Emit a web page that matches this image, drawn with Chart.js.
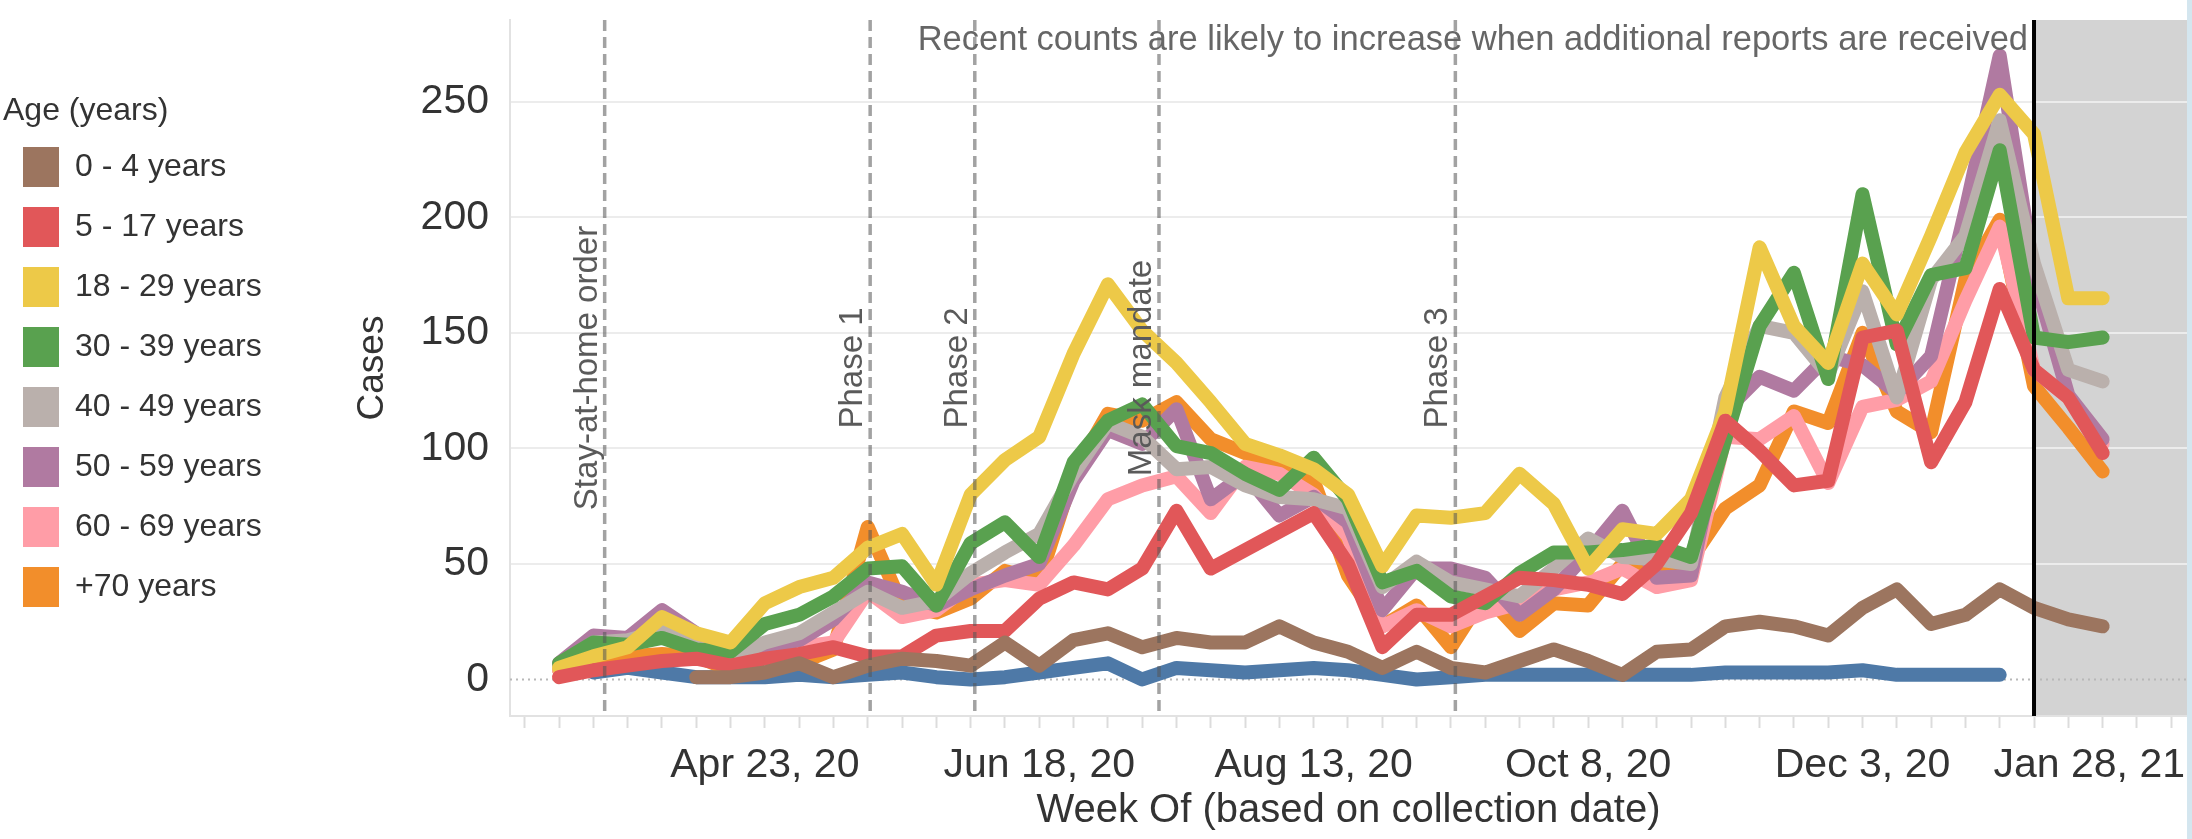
<!DOCTYPE html>
<html>
<head>
<meta charset="utf-8">
<title>Cases by age group</title>
<script src="https://cdn.jsdelivr.net/npm/chart.js@4.4.1/dist/chart.umd.min.js"></script>
<style>
    html, body { margin: 0; padding: 0; background: #ffffff; }
    #ChartWrap { width: 2192px; height: 839px; }
</style>
</head>
<body>
<div id="ChartWrap"><canvas id="AgeCasesChart" width="2192" height="839"></canvas></div>
<script>
const AgeCasesChartId = 'AgeCasesChart';

// weekly buckets (x = week index)
const WeekLabels = ["Mar 12, 20", "Mar 19, 20", "Mar 26, 20", "Apr 2, 20", "Apr 9, 20", "Apr 16, 20", "Apr 23, 20", "Apr 30, 20",
    "May 7, 20", "May 14, 20", "May 21, 20", "May 28, 20", "Jun 4, 20", "Jun 11, 20", "Jun 18, 20", "Jun 25, 20",
    "Jul 2, 20", "Jul 9, 20", "Jul 16, 20", "Jul 23, 20", "Jul 30, 20", "Aug 6, 20", "Aug 13, 20", "Aug 20, 20",
    "Aug 27, 20", "Sep 3, 20", "Sep 10, 20", "Sep 17, 20", "Sep 24, 20", "Oct 1, 20", "Oct 8, 20", "Oct 15, 20",
    "Oct 22, 20", "Oct 29, 20", "Nov 5, 20", "Nov 12, 20", "Nov 19, 20", "Nov 26, 20", "Dec 3, 20", "Dec 10, 20",
    "Dec 17, 20", "Dec 24, 20", "Dec 31, 20", "Jan 7, 21", "Jan 14, 21", "Jan 21, 21"];

const AgeGroups = ['0 - 4 years', '5 - 17 years', '18 - 29 years', '30 - 39 years', '40 - 49 years', '50 - 59 years', '60 - 69 years', '+70 years'];
const AgeColors = ['#9c755f', '#e15759', '#edc948', '#59a14f', '#bab0ac', '#b07aa1', '#ff9da7', '#f28e2b'];
const UnknownLabel = 'Unknown';
const UnknownColor = '#4e79a7';

const Cases0To4 = [null, null, null, null, 1, 1, 3, 7, 1, 6, 9, 8, 6, 16, 6, 17, 20, 14, 18, 16, 16, 23, 16, 12,
    5, 12, 5, 3, 8, 13, 8, 2, 12, 13, 23, 25, 23, 19, 31, 39, 24, 28, 39, 31, 26, 23];
const Cases5To17 = [1, 4, 6, 8, 9, 6, 9, 11, 14, 10, 10, 19, 21, 21, 35, 42, 39, 48, 73, 48, 56, 64, 72, 50,
    14, 28, 28, 36, 44, 43, 41, 37, 50, 72, 112, 99, 84, 86, 148, 151, 94, 120, 169, 134, 122, 98];
const Cases18To29 = [5, 10, 14, 27, 20, 16, 33, 40, 44, 57, 63, 41, 80, 95, 105, 141, 171, 151, 137, 120, 102, 97, 91, 80,
    49, 71, 70, 72, 89, 76, 48, 65, 63, 78, 116, 187, 153, 137, 180, 158, 192, 228, 253, 236, 165, 165];
const Cases30To39 = [7, 16, 15, 18, 13, 12, 24, 28, 36, 48, 49, 32, 59, 68, 53, 94, 112, 119, 101, 98, 89, 82, 96, 78,
    42, 47, 36, 33, 46, 55, 55, 56, 58, 53, 104, 153, 176, 130, 210, 145, 175, 178, 229, 148, 146, 148];
const Cases40To49 = [6, 16, 17, 21, 14, 9, 16, 20, 29, 38, 31, 34, 46, 55, 63, 89, 111, 105, 91, 92, 84, 79, 78, 74,
    40, 51, 42, 39, 36, 48, 61, 53, 52, 50, 122, 153, 150, 132, 168, 122, 173, 192, 242, 180, 134, 129];
const Cases50To59 = [7, 19, 18, 30, 20, 9, 14, 17, 26, 42, 38, 32, 39, 45, 50, 86, 108, 102, 117, 78, 89, 71, 79, 68,
    30, 48, 48, 44, 28, 39, 55, 73, 44, 45, 116, 131, 125, 140, 136, 124, 140, 203, 270, 175, 123, 104];
const Cases60To69 = [4, 17, 18, 26, 16, 6, 12, 14, 16, 38, 27, 30, 41, 43, 41, 58, 78, 84, 88, 72, 92, 89, 80, 62,
    23, 30, 23, 29, 33, 39, 42, 48, 40, 43, 105, 104, 114, 85, 118, 121, 129, 164, 196, 134, 122, 102];
const Cases70Plus = [4, 7, 10, 11, 10, 4, 12, 7, 13, 66, 32, 29, 35, 47, 43, 89, 115, 112, 120, 104, 98, 92, 86, 45,
    23, 32, 14, 37, 21, 33, 32, 50, 44, 52, 74, 84, 116, 111, 150, 116, 107, 173, 199, 127, 109, 90];
const CasesUnknown = [null, 3, 5, 3, 1, 1, 1, 2, 1, 2, 3, 1, 0, 1, 3, 5, 7, 0, 5, 4, 3, 4, 5, 4,
    2, 0, 1, 2, 2, 2, 2, 2, 2, 2, 3, 3, 3, 3, 4, 2, 2, 2, 2, null, null, null];

const AgeSeries = [Cases0To4, Cases5To17, Cases18To29, Cases30To39, Cases40To49, Cases50To59, Cases60To69, Cases70Plus];

const XTickWeeks = [6, 14, 22, 30, 38, 46];
const XTickLabels = ['Apr 23, 20', 'Jun 18, 20', 'Aug 13, 20', 'Oct 8, 20', 'Dec 3, 20', 'Jan 28, 21'];
const YTickValues = [0, 50, 100, 150, 200, 250];

// policy events, as fractional week index
const EventWeeks = [1.33, 9.07, 12.12, 17.49, 26.13];
const EventLabels = ['Stay-at-home order', 'Phase 1', 'Phase 2', 'Mask mandate', 'Phase 3'];
const ProvisionalFromWeek = 43;
const ProvisionalNote = 'Recent counts are likely to increase when additional reports are received';

const FontFamily = "'Liberation Sans', Arial, sans-serif";
const LayoutPadLeft = 3;
const LegendWidth = 262;
const PlotLeft = 510;
const XAxisHeight = 123;
const XTickFontSize = 41;

Chart.defaults.font.family = FontFamily;
Chart.defaults.color = '#333333';

function ToPoints(values)
{
    return values.map((v, i) => ({ x: i, y: v }));
}

function BuildDatasets()
{
    const sets = AgeSeries.map((values, i) => ({
        label: AgeGroups[i],
        data: ToPoints(values),
        borderColor: AgeColors[i],
        backgroundColor: AgeColors[i]
    }));
    sets.push({
        label: UnknownLabel,
        data: ToPoints(CasesUnknown),
        borderColor: UnknownColor,
        backgroundColor: UnknownColor
    });
    return sets;
}

const shadePlugin = {
    id: 'provisionalShade',
    beforeDraw(chart) {
        const { ctx, chartArea: { top, bottom, right }, scales: { x } } = chart;
        const left = x.getPixelForValue(ProvisionalFromWeek);
        ctx.save();
        ctx.fillStyle = '#d3d3d3';
        ctx.fillRect(left, top, right - left, bottom - top);
        ctx.restore();
    }
};

const markerPlugin = {
    id: 'eventMarkers',
    beforeDatasetsDraw(chart) {
        const { ctx, chartArea: { left, right }, scales: { y } } = chart;
        const zeroY = y.getPixelForValue(0);
        ctx.save();
        ctx.strokeStyle = '#b8b8b8';
        ctx.lineWidth = 2;
        ctx.setLineDash([2, 4]);
        ctx.beginPath();
        ctx.moveTo(left, zeroY);
        ctx.lineTo(right, zeroY);
        ctx.stroke();
        ctx.restore();
    },
    afterDatasetsDraw(chart) {
        const { ctx, chartArea: { top, bottom }, scales: { x } } = chart;
        const midY = (top + bottom) / 2;
        ctx.save();
        ctx.lineWidth = 3.5;
        ctx.setLineDash([11, 6]);
        ctx.strokeStyle = 'rgba(85, 85, 85, 0.55)';
        ctx.font = '33px ' + FontFamily;
        ctx.fillStyle = '#5a5a5a';
        ctx.textAlign = 'center';
        ctx.textBaseline = 'alphabetic';
        EventWeeks.forEach((week, i) => {
            const px = x.getPixelForValue(week);
            ctx.beginPath();
            ctx.moveTo(px, top);
            ctx.lineTo(px, bottom);
            ctx.stroke();
            ctx.save();
            ctx.translate(px - 8, midY);
            ctx.rotate(-Math.PI / 2);
            ctx.fillText(EventLabels[i], 0, 0);
            ctx.restore();
        });

        const cut = x.getPixelForValue(ProvisionalFromWeek);
        ctx.setLineDash([]);
        ctx.strokeStyle = '#000000';
        ctx.lineWidth = 4;
        ctx.beginPath();
        ctx.moveTo(cut, top);
        ctx.lineTo(cut, bottom);
        ctx.stroke();

        ctx.font = '34.5px ' + FontFamily;
        ctx.fillStyle = '#666666';
        ctx.textAlign = 'right';
        ctx.fillText(ProvisionalNote, cut - 6, top + 30);
        ctx.restore();
    },
    afterDraw(chart) {
        const { ctx, chartArea: { right }, scales: { x } } = chart;
        // last axis label does not fit, so it is pulled inside like Tableau does
        const labelY = x.top + 12 + 13 + XTickFontSize * 1.2 / 2;
        ctx.save();
        ctx.font = XTickFontSize + 'px ' + FontFamily;
        ctx.fillStyle = '#333333';
        ctx.textAlign = 'right';
        ctx.textBaseline = 'middle';
        ctx.fillText(XTickLabels[XTickLabels.length - 1], right - 2, labelY);
        ctx.fillStyle = '#d4e6ef';
        ctx.fillRect(right, 0, chart.width - right, chart.height);
        ctx.restore();
    }
};

new Chart(document.getElementById(AgeCasesChartId),
{
    type: 'line',
    data:
    {
        datasets: BuildDatasets()
    },
    options:
    {
        responsive: false,
        animation: false,
        devicePixelRatio: 1,
        events: [],
        layout: { padding: { left: LayoutPadLeft, top: 20, right: 5, bottom: 0 } },
        elements:
        {
            line: { borderWidth: 14, tension: 0, borderJoinStyle: 'round', borderCapStyle: 'round', fill: false },
            point: { radius: 0 }
        },
        scales:
        {
            x:
            {
                type: 'linear',
                min: -1.43,
                max: 47.46,
                afterBuildTicks: axis =>
                {
                    const ticks = [];
                    for (let v = -1; v <= 47; v++) ticks.push({ value: v });
                    axis.ticks = ticks;
                },
                afterFit: axis =>
                {
                    axis.height = XAxisHeight;
                    axis.paddingLeft = 0;
                    axis.paddingRight = 0;
                },
                grid: { drawOnChartArea: false, drawTicks: true, tickLength: 12, tickColor: '#dcdcdc', tickWidth: 2 },
                border: { color: '#e2e2e2', width: 2 },
                ticks:
                {
                    autoSkip: false,
                    maxRotation: 0,
                    padding: 13,
                    color: '#333333',
                    font: { size: XTickFontSize },
                    callback: value =>
                    {
                        const k = XTickWeeks.indexOf(value);
                        if (k < 0 || value > WeekLabels.length - 1) return '';
                        return XTickLabels[k];
                    }
                },
                title:
                {
                    display: true,
                    text: 'Week Of (based on collection date)',
                    color: '#333333',
                    font: { size: 40 },
                    padding: { top: 0, bottom: 4 }
                }
            },
            y:
            {
                type: 'linear',
                min: -15.8,
                max: 285.4,
                afterBuildTicks: axis =>
                {
                    axis.ticks = YTickValues.map(v => ({ value: v }));
                },
                afterFit: axis =>
                {
                    axis.width = PlotLeft - LayoutPadLeft - axis.chart.legend.width;
                    axis.paddingTop = 0;
                    axis.paddingBottom = 0;
                },
                grid:
                {
                    drawTicks: false,
                    lineWidth: 2,
                    color: ctx => ctx.tick && ctx.tick.value === 0 ? 'rgba(0,0,0,0)' : '#ececec'
                },
                border: { color: '#e2e2e2', width: 2 },
                ticks: { padding: 21, color: '#333333', font: { size: 41 } },
                title:
                {
                    display: true,
                    text: 'Cases',
                    color: '#333333',
                    font: { size: 37 },
                    padding: { top: 86, bottom: 0 }
                }
            }
        },
        plugins:
        {
            tooltip: { enabled: false },
            legend:
            {
                position: 'left',
                align: 'start',
                maxWidth: LegendWidth,
                title:
                {
                    display: true,
                    text: 'Age (years)',
                    position: 'start',
                    color: '#333333',
                    font: { size: 32, lineHeight: 1 },
                    padding: { top: 75, bottom: 0 }
                },
                labels:
                {
                    boxWidth: 36,
                    boxHeight: 40,
                    padding: 20,
                    color: '#333333',
                    font: { size: 32 },
                    generateLabels: chart => Chart.defaults.plugins.legend.labels.generateLabels(chart)
                        .filter(item => item.datasetIndex < AgeGroups.length)
                        .map(item => Object.assign(item, { lineWidth: 0, fillStyle: AgeColors[item.datasetIndex] }))
                }
            }
        }
    },
    plugins: [shadePlugin, markerPlugin]
});
</script>
</body>
</html>
